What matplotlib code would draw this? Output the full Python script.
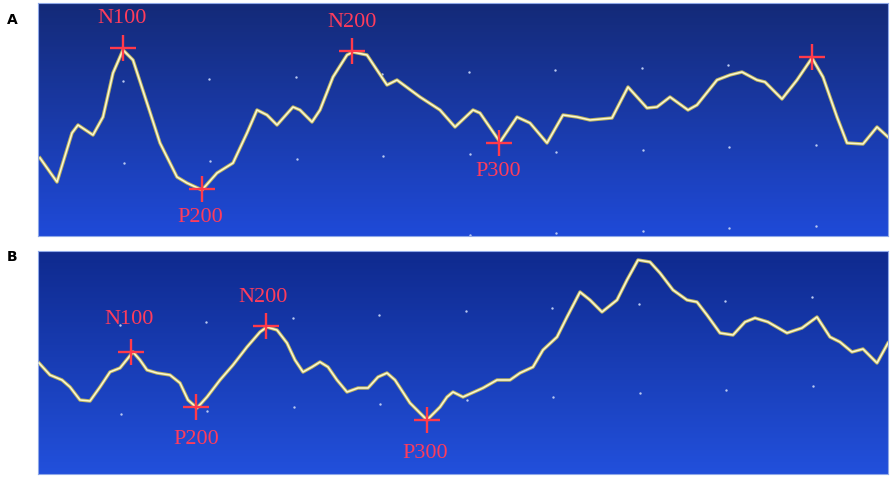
import matplotlib
matplotlib.use('Agg')
import matplotlib.pyplot as plt
from matplotlib.colors import LinearSegmentedColormap
import numpy as np

# ---------------- data (pixel units) ----------------
# panel A trace
xa = [40, 57, 72, 78, 93, 103, 113, 123, 133, 147, 160, 177, 187, 202, 217, 233,
      247, 257, 267, 277, 293, 300, 312, 320, 333, 347, 353, 367, 377, 387, 397,
      420, 440, 455, 473, 480, 500, 517, 530, 547, 563, 577, 590, 612, 628, 647,
      657, 670, 688, 697, 717, 730, 742, 757, 765, 782, 797, 812, 823, 837, 847,
      863, 877, 888]
ya = [158, 182, 133, 125, 135, 117, 73, 50, 60, 103, 143, 177, 183, 190, 173, 163,
      133, 110, 115, 125, 107, 110, 122, 110, 77, 55, 52, 55, 70, 85, 80,
      97, 110, 127, 110, 113, 142, 117, 123, 143, 115, 117, 120, 118, 87, 108,
      107, 97, 110, 105, 80, 75, 72, 80, 82, 99, 80, 58, 77, 117, 143,
      144, 127, 137]
peaks_a_x = [123, 202, 352, 499, 812]
peaks_a_y = [48, 189, 51, 143, 57]
peaks_a_lab = ['N100', 'P200', 'N200', 'P300', '']
lab_a_x = [122, 200, 352, 498]
lab_a_y = [18, 218, 22, 172]

# panel B trace
xb = [39, 50, 62, 70, 80, 90, 100, 110, 120, 133, 140, 147, 157, 170, 180, 188,
      197, 207, 220, 233, 247, 260, 267, 277, 287, 295, 303, 312, 320, 328, 337,
      347, 358, 368, 378, 387, 395, 410, 427, 440, 447, 453, 463, 483, 497, 510,
      520, 533, 543, 557, 567, 580, 590, 602, 617, 627, 638, 650, 660, 673, 687,
      697, 707, 720, 733, 745, 755, 768, 787, 802, 817, 830, 840, 852, 863, 877, 888]
yb = [363, 375, 380, 387, 400, 401, 387, 372, 368, 352, 360, 370, 373, 375, 383, 400,
      408, 397, 380, 365, 347, 332, 327, 330, 343, 360, 372, 367, 362, 367, 380,
      392, 388, 388, 377, 373, 380, 403, 420, 407, 397, 392, 397, 388, 380, 380,
      373, 367, 350, 337, 317, 292, 300, 312, 300, 280, 260, 262, 273, 290, 300,
      302, 315, 333, 335, 322, 318, 322, 333, 328, 317, 337, 342, 352, 349, 363, 343]
peaks_b_x = [131, 196, 266, 427]
peaks_b_y = [352, 407, 326, 420]
peaks_b_lab = ['N100', 'P200', 'N200', 'P300']
lab_b_x = [129, 196, 263, 425]
lab_b_y = [319, 440, 297, 454]

# ---------------- plot ----------------
fig = plt.figure(figsize=(8.93, 4.79), dpi=100)
W, H = 893, 479

line_col = '#fbf8d2'
mark_col = '#ff3a4a'
text_col = '#ff3c5c'


def make_panel(box, top_col, bot_col, x, y, px, py, labs, lx, ly, rows, slope):
    x0, y0, x1, y1 = box
    ax = fig.add_axes([x0 / W, 1 - y1 / H, (x1 - x0) / W, (y1 - y0) / H])
    cmap = LinearSegmentedColormap.from_list('bg', [top_col, bot_col])
    grad = np.linspace(0, 1, 256).reshape(-1, 1)
    ax.imshow(grad, cmap=cmap, aspect='auto', extent=(x0, x1, y1, y0), zorder=0)
    # screen grid dots
    for r in rows:
        gx = np.arange(r[0], x1, 86.5)
        ax.scatter(gx, r[1] + slope * (gx - r[0]), s=3, color='#b8c8f0', zorder=1, lw=0)
    ax.plot(x, y, color='#b8b060', lw=2.5, zorder=2, solid_joinstyle='round')
    ax.plot(x, y, color=line_col, lw=1.1, zorder=3, solid_joinstyle='round')
    ax.plot(px, py, ls='', marker='+', ms=19, mew=1.7, color=mark_col, zorder=4)
    for t, tx, ty in zip(labs, lx, ly):
        ax.text(tx, ty, t, color=text_col, fontsize=16, family='Liberation Serif',
                ha='center', va='center', zorder=5)
    ax.set_xlim(x0, x1)
    ax.set_ylim(y1, y0)
    ax.set_xticks([])
    ax.set_yticks([])
    for s in ax.spines.values():
        s.set_color('#8fa8e8')
        s.set_linewidth(0.8)
    return ax


make_panel((38, 3, 888, 236), '#142a78', '#1f4ad8', xa, ya, peaks_a_x, peaks_a_y,
           peaks_a_lab, lab_a_x, lab_a_y, [(123, 81), (124, 163), (124, 244)], -0.026)
make_panel((38, 251, 888, 474), '#0f2a8e', '#2250dc', xb, yb, peaks_b_x, peaks_b_y,
           peaks_b_lab, lab_b_x, lab_b_y, [(120, 325), (121, 414)], -0.04)

fig.text(12 / W, 1 - 20 / H, 'A', fontsize=10, fontweight='bold', ha='center', va='center')
fig.text(12 / W, 1 - 257 / H, 'B', fontsize=10, fontweight='bold', ha='center', va='center')

fig.savefig('out.png', dpi=100)
